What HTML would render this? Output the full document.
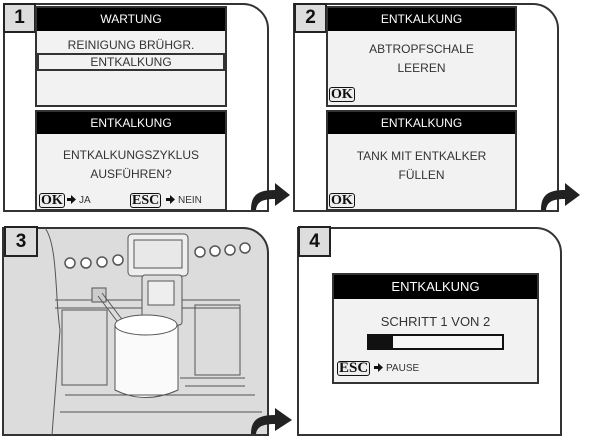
<!DOCTYPE html>
<html><head><meta charset="utf-8"><style>
body{margin:0;width:600px;height:443px;background:#fff;position:relative;overflow:hidden;font-family:"Liberation Sans",sans-serif;}
.a{position:absolute;box-sizing:border-box;}
.scr{position:absolute;box-sizing:border-box;background:#f2f2f2;border:2px solid #333;}
.hd{position:absolute;left:0;right:0;top:0;background:#000;color:#fff;font-size:12px;text-align:center;}
.t{position:absolute;left:0;right:0;text-align:center;color:#333;font-size:12px;}
.btn{position:absolute;font-family:"Liberation Serif",serif;font-weight:bold;font-size:14px;color:#111;border:1.5px solid #111;border-radius:3px;line-height:13px;padding:0 1px;background:#eee;}
.sm{position:absolute;font-size:10px;color:#333;}
.sm svg{vertical-align:-1px;margin-right:3px}
.badge{position:absolute;box-sizing:border-box;background:#ddd;border:2px solid #222;font-weight:bold;font-size:19px;text-align:center;color:#111;}
</style></head><body>
<svg class="a" style="left:0;top:0" width="600" height="443">
<g fill="none" stroke="#333" stroke-width="2">
<path d="M4 211 V4 H243 A25 25 0 0 1 268 29 V211 Z"/>
<path d="M294 211 V4 H533 A25 25 0 0 1 558 29 V211 Z"/>
<path d="M3 435 V228 H243 A25 25 0 0 1 268 253 V435 Z" fill="#dcdcdc"/>
<path d="M298 435 V228 H536 A25 25 0 0 1 561 253 V435 Z"/>
</g>
<g fill="#e4e4e4" stroke="#555" stroke-width="1">
<path d="M45 228 C58 245 55 300 60 330 L52 435" fill="none"/>
<path d="M55 300 H240 M55 308 H240" fill="none"/>
<rect x="62" y="310" width="45" height="75" fill="none"/>
<rect x="195" y="305" width="45" height="70" fill="none"/>
<rect x="128" y="234" width="60" height="42" rx="4" fill="#eee"/>
<rect x="134" y="240" width="48" height="28" fill="#e8e8e8"/>
<rect x="142" y="275" width="40" height="50" rx="3" fill="#ddd"/>
<rect x="148" y="281" width="26" height="24" fill="#eee"/>
<rect x="92" y="288" width="14" height="14" fill="#ccc"/>
<path d="M98 296 L120 325 M102 293 L124 322" fill="none"/>
<path d="M115 325 V390 Q145 405 178 390 V325" fill="#fafafa"/>
<ellipse cx="146" cy="325" rx="31" ry="10" fill="#fff"/>
<path d="M65 395 H255 M60 412 H262 M180 378 H245 M185 386 H245" fill="none"/>
</g>
<g fill="#fff" stroke="#555" stroke-width="1.5">
<circle cx="70" cy="263" r="5"/><circle cx="86" cy="263" r="5"/><circle cx="102" cy="262" r="5"/><circle cx="118" cy="260" r="5"/>
<circle cx="200" cy="252" r="5"/><circle cx="215" cy="251" r="5"/><circle cx="230" cy="250" r="5"/><circle cx="245" cy="248" r="5"/>
</g>
<g fill="#222">
<path d="M251 210 C251 195 258 190 275 190 V183 L290 195 L275 206 V199 C262 199 257 202 256 210 Z"/>
<path d="M541 210 C541 195 548 190 565 190 V183 L580 195 L565 206 V199 C552 199 547 202 546 210 Z"/>
<path d="M251 434 C251 420 258 415 275 415 V408 L292 420 L275 431 V424 C262 424 257 427 256 434 Z"/>
</g>
</svg>
<div class="badge" style="left:3px;top:3px;width:33px;height:30px;line-height:26px">1</div>
<div class="badge" style="left:294px;top:3px;width:33px;height:30px;line-height:26px">2</div>
<div class="badge" style="left:4px;top:226px;width:34px;height:31px;line-height:27px">3</div>
<div class="badge" style="left:298px;top:226px;width:33px;height:31px;line-height:27px">4</div>

<div class="scr" style="left:35px;top:6px;width:192px;height:101px">
 <div class="hd" style="height:23px;line-height:23px">WARTUNG</div>
 <div class="t" style="top:30px">REINIGUNG BRÜHGR.</div>
 <div class="a" style="left:0;right:0;top:45px;height:18px;border:2px solid #333;text-align:center;font-size:12px;color:#333;line-height:14px">ENTKALKUNG</div>
</div>
<div class="scr" style="left:35px;top:110px;width:192px;height:101px">
 <div class="hd" style="height:22px;line-height:22px">ENTKALKUNG</div>
 <div class="t" style="top:36px">ENTKALKUNGSZYKLUS</div>
 <div class="t" style="top:55px">AUSFÜHREN?</div>
 <div class="btn" style="left:2px;top:81px">OK</div><div class="sm" style="left:30px;top:83px"><svg width="9" height="9"><path d="M0 3H4V0L9 4.5L4 9V6H0Z" fill="#111"/></svg>JA</div>
 <div class="btn" style="left:93px;top:81px">ESC</div><div class="sm" style="left:129px;top:83px"><svg width="9" height="9"><path d="M0 3H4V0L9 4.5L4 9V6H0Z" fill="#111"/></svg>NEIN</div>
</div>

<div class="scr" style="left:326px;top:6px;width:191px;height:101px">
 <div class="hd" style="height:23px;line-height:23px">ENTKALKUNG</div>
 <div class="t" style="top:34px">ABTROPFSCHALE</div>
 <div class="t" style="top:53px">LEEREN</div>
 <div class="btn" style="left:1px;top:79px">OK</div>
</div>
<div class="scr" style="left:326px;top:110px;width:191px;height:101px">
 <div class="hd" style="height:22px;line-height:22px">ENTKALKUNG</div>
 <div class="t" style="top:37px">TANK MIT ENTKALKER</div>
 <div class="t" style="top:56px">FÜLLEN</div>
 <div class="btn" style="left:1px;top:81px">OK</div>
</div>

<div class="scr" style="left:332px;top:273px;width:207px;height:111px">
 <div class="hd" style="height:24px;line-height:24px;font-size:13px">ENTKALKUNG</div>
 <div class="t" style="top:39px;font-size:13px">SCHRITT 1 VON 2</div>
 <div class="a" style="left:33px;top:59px;width:137px;height:16px;border:2px solid #111;background:#f6f6f6"><div class="a" style="left:0;top:0;width:24px;height:12px;background:#111"></div></div>
 <div class="btn" style="left:3px;top:86px;font-size:15px">ESC</div><div class="sm" style="left:40px;top:88px"><svg width="9" height="9"><path d="M0 3H4V0L9 4.5L4 9V6H0Z" fill="#111"/></svg>PAUSE</div>
</div>
</body></html>
